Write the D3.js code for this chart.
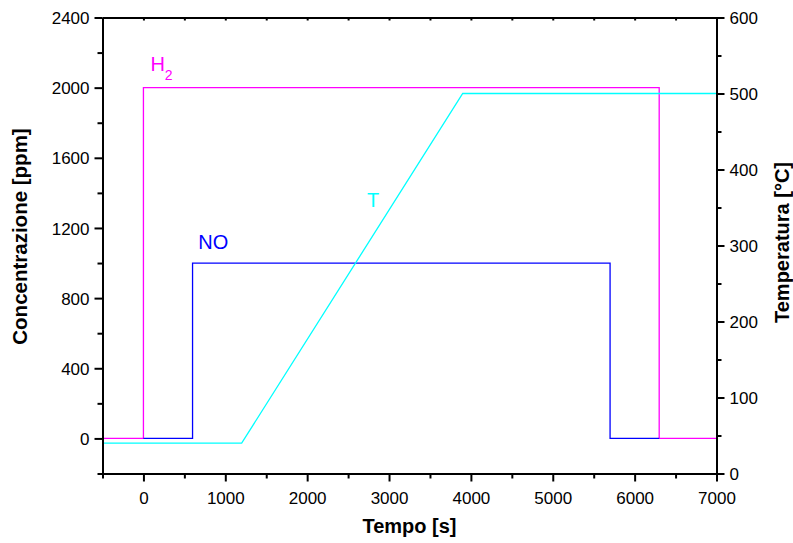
<!DOCTYPE html>
<html>
<head>
<meta charset="utf-8">
<script src="https://cdn.jsdelivr.net/npm/d3@7/dist/d3.min.js"></script>
<style>
  body { margin: 0; background: #fff; }
  svg { display: block; font-family: "Liberation Sans", Arial, sans-serif; }
  .axis path, .axis line { stroke: #000; }
  .axis text { font-size: 17px; fill: #000; }
</style>
</head>
<body>
<svg id="chart" width="793" height="543"></svg>
<script>
// dati
const timeH2 = [-500, 0, 0, 6300, 6300, 7000];
const concH2 = [0, 0, 2000, 2000, 0, 0];
const timeNO = [0, 600, 600, 5700, 5700, 6300];
const concNO = [0, 0, 1000, 1000, 0, 0];
const timeT = [-500, 1200, 3900, 7000];
const tempT = [40, 40, 500, 500];

const xTicks = [0, 1000, 2000, 3000, 4000, 5000, 6000, 7000];
const xMinor = [-500, 500, 1500, 2500, 3500, 4500, 5500, 6500];
const yTicks = [0, 400, 800, 1200, 1600, 2000, 2400];
const yMinor = [-200, 200, 600, 1000, 1400, 1800, 2200];
const tTicks = [0, 100, 200, 300, 400, 500, 600];
const tMinor = [50, 150, 250, 350, 450, 550];

const svg = d3.select('#chart');
const pLeft = 102.5, pRight = 716.5, pTop = 17.5, pBottom = 473.5;

const x = d3.scaleLinear().domain([-500, 7000]).range([pLeft, pRight]);
const y = d3.scaleLinear().domain([-200, 2400]).range([pBottom, pTop]);
const yT = d3.scaleLinear().domain([0, 600]).range([pBottom, pTop]);

// serie
function series(xs, ys, scaleY, color) {
    const pts = xs.map((v, i) => [x(v), scaleY(ys[i])]);
    svg.append('path')
        .attr('d', d3.line()(pts))
        .attr('fill', 'none')
        .attr('stroke', color)
        .attr('stroke-width', 1.3);
}
series(timeH2, concH2, y, '#ff00ff');
series(timeNO, concNO, y, '#0000ff');
series(timeT, tempT, yT, '#00ffff');

// assi
function axis(gen, tr, vals, size, fmt) {
    const g = svg.append('g')
        .attr('class', 'axis')
        .attr('transform', tr)
        .call(gen.tickValues(vals).tickSize(size).tickSizeOuter(0).tickPadding(5).tickFormat(fmt));
    g.select('.domain').attr('stroke-width', 2);
    g.selectAll('.tick line').attr('stroke-width', 2);
    return g;
}
const none = () => '';

axis(d3.axisBottom(x), `translate(0,${pBottom})`, xTicks, 8, d3.format('d'))
    .selectAll('text').attr('dy', '1.05em');
axis(d3.axisBottom(x), `translate(0,${pBottom})`, xMinor, 5, none);
axis(d3.axisTop(x), `translate(0,${pTop})`, xTicks.concat(xMinor), -3, none);

axis(d3.axisLeft(y), `translate(${pLeft},0)`, yTicks, 8, d3.format('d'))
    .selectAll('text').attr('dy', '0.36em');
axis(d3.axisLeft(y), `translate(${pLeft},0)`, yMinor, 5, none);

axis(d3.axisRight(yT), `translate(${pRight},0)`, tTicks, 8, d3.format('d'))
    .selectAll('text').attr('dy', '0.36em');
axis(d3.axisRight(yT), `translate(${pRight},0)`, tMinor, 5, none);

// titoli degli assi
svg.append('text')
    .attr('x', (pLeft + pRight) / 2).attr('y', 533)
    .attr('text-anchor', 'middle')
    .attr('font-size', 20).attr('font-weight', 'bold')
    .text('Tempo [s]');

svg.append('text')
    .attr('transform', `translate(27,${(pTop + pBottom) / 2 - 9}) rotate(-90)`)
    .attr('text-anchor', 'middle')
    .attr('font-size', 20.5).attr('font-weight', 'bold')
    .text('Concentrazione [ppm]');

svg.append('text')
    .attr('transform', `translate(789,${(pTop + pBottom) / 2 - 3}) rotate(-90)`)
    .attr('text-anchor', 'middle')
    .attr('font-size', 20).attr('font-weight', 'bold')
    .text('Temperatura [°C]');

// etichette delle serie
const h2 = svg.append('text')
    .attr('x', x(85)).attr('y', y(2095))
    .attr('font-size', 20).attr('fill', '#ff00ff');
h2.append('tspan').text('H');
h2.append('tspan').attr('font-size', 14).attr('dy', 9).text('2');

svg.append('text')
    .attr('x', x(670)).attr('y', y(1080))
    .attr('font-size', 20).attr('fill', '#0000ff')
    .text('NO');

svg.append('text')
    .attr('x', x(2730)).attr('y', yT(351))
    .attr('font-size', 20).attr('fill', '#00ffff')
    .text('T');
</script>
</body>
</html>
